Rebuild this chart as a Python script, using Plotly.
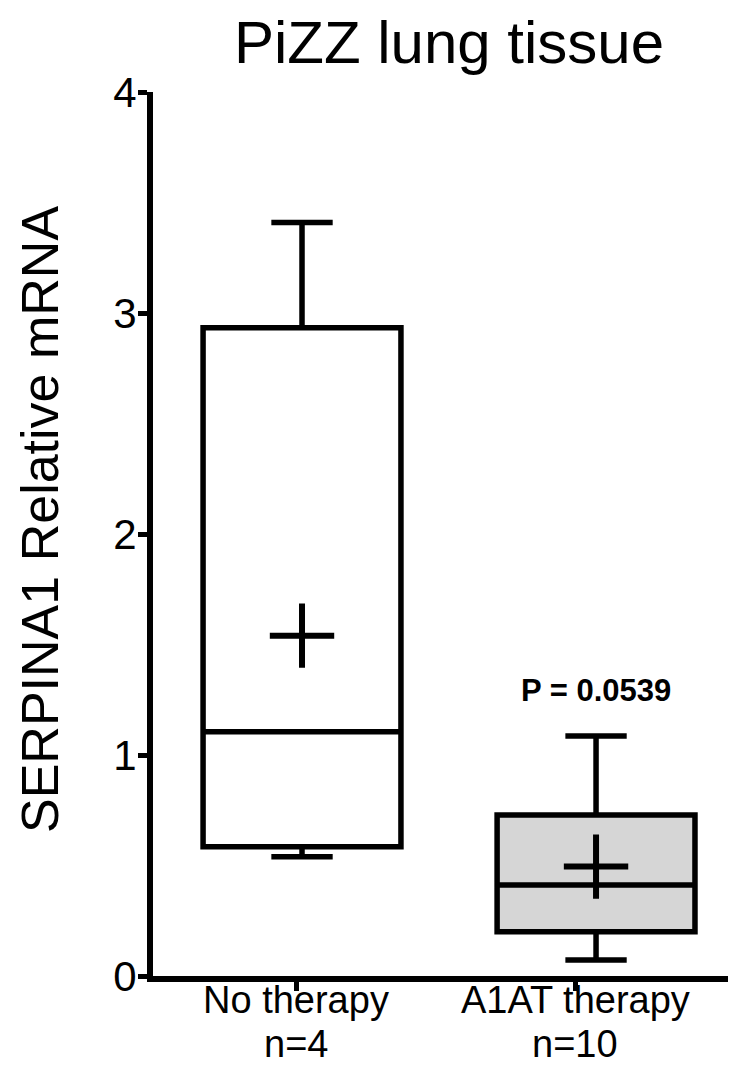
import plotly.graph_objects as go

# ---- data ----
groups = ["No therapy", "A1AT therapy"]
n_labels = ["n=4", "n=10"]
q1 = [0.585, 0.200]
median = [1.105, 0.412]
q3 = [2.933, 0.728]
lower_whisker = [0.540, 0.072]
upper_whisker = [3.409, 1.086]
means = [1.540, 0.495]
p_value_text = "P = 0.0539"
p_value_y = 1.294
y_ticks = [0, 1, 2, 3, 4]

# ---- layout/style ----
positions = [1, 2]
tick_positions = [0.98, 1.93]
fills = ["white", "#d6d6d6"]
FONT = "Arial, Liberation Sans, sans-serif"
PAGE_PAD = 8  # default body margin of the html page
W, H = 736 - PAGE_PAD, 1078 - PAGE_PAD
L, R, T, B = 153 - PAGE_PAD, 0, 92 - PAGE_PAD, 102
plot_h = H - T - B
plot_w = W - L - R

fig = go.Figure()
for i in range(len(groups)):
    fig.add_trace(go.Box(
        x=[positions[i]], q1=[q1[i]], median=[median[i]], q3=[q3[i]],
        lowerfence=[lower_whisker[i]], upperfence=[upper_whisker[i]],
        width=0.673, whiskerwidth=0.31, fillcolor=fills[i],
        line=dict(color="black", width=5.5), boxpoints=False,
        showlegend=False, hoverinfo="skip",
    ))

fig.add_trace(go.Scatter(
    x=positions, y=means, mode="markers",
    marker=dict(symbol="cross-thin", size=46, color="black",
                line=dict(color="black", width=6)),
    showlegend=False, hoverinfo="skip",
))

fig.add_annotation(
    x=positions[1], y=p_value_y, text="<b>" + p_value_text + "</b>",
    showarrow=False, font=dict(family=FONT, size=31, color="black"),
    xanchor="center", yanchor="middle",
)

# category labels and n labels beneath the x axis
for i in range(len(groups)):
    fig.add_annotation(
        x=tick_positions[i], xref="x", y=0, yref="paper",
        text=groups[i], showarrow=False, xanchor="center", yanchor="middle",
        yshift=-24, font=dict(family=FONT, size=38, color="black"),
    )
    fig.add_annotation(
        x=tick_positions[i], xref="x", y=0, yref="paper",
        text=n_labels[i], showarrow=False, xanchor="center", yanchor="middle",
        yshift=-68, font=dict(family=FONT, size=38, color="black"),
    )

# y axis title
fig.add_annotation(
    x=(40 - 153) / plot_w, xref="paper", y=(976 - 520) / plot_h, yref="paper",
    text="SERPINA1 Relative mRNA", textangle=-90, showarrow=False,
    xanchor="center", yanchor="middle",
    font=dict(family=FONT, size=52, color="black"),
)

fig.update_layout(
    width=W, height=H,
    margin=dict(l=L, r=R, t=T, b=B),
    paper_bgcolor="white", plot_bgcolor="white",
    title=dict(text="PiZZ lung tissue", x=(449 - PAGE_PAD) / W, xanchor="center",
               xref="container", y=1 - (42 - PAGE_PAD) / H, yanchor="middle",
               font=dict(family=FONT, size=60, color="black")),
    font=dict(family=FONT, color="black"),
)

fig.update_xaxes(
    range=[0.4932, 2.476], showgrid=False, zeroline=False, automargin=False,
    showline=True, linecolor="black", linewidth=6,
    ticks="outside", ticklen=9, tickwidth=5, tickcolor="black",
    tickvals=tick_positions, ticktext=["", ""],
)
fig.update_yaxes(
    range=[0, 4], showgrid=False, zeroline=False, automargin=False,
    showline=True, linecolor="black", linewidth=6,
    ticks="outside", ticklen=9, tickwidth=5, tickcolor="black",
    ticklabelstandoff=-7,
    tickvals=y_ticks, tickfont=dict(family=FONT, size=42, color="black"),
)

fig.write_html("out.html")
